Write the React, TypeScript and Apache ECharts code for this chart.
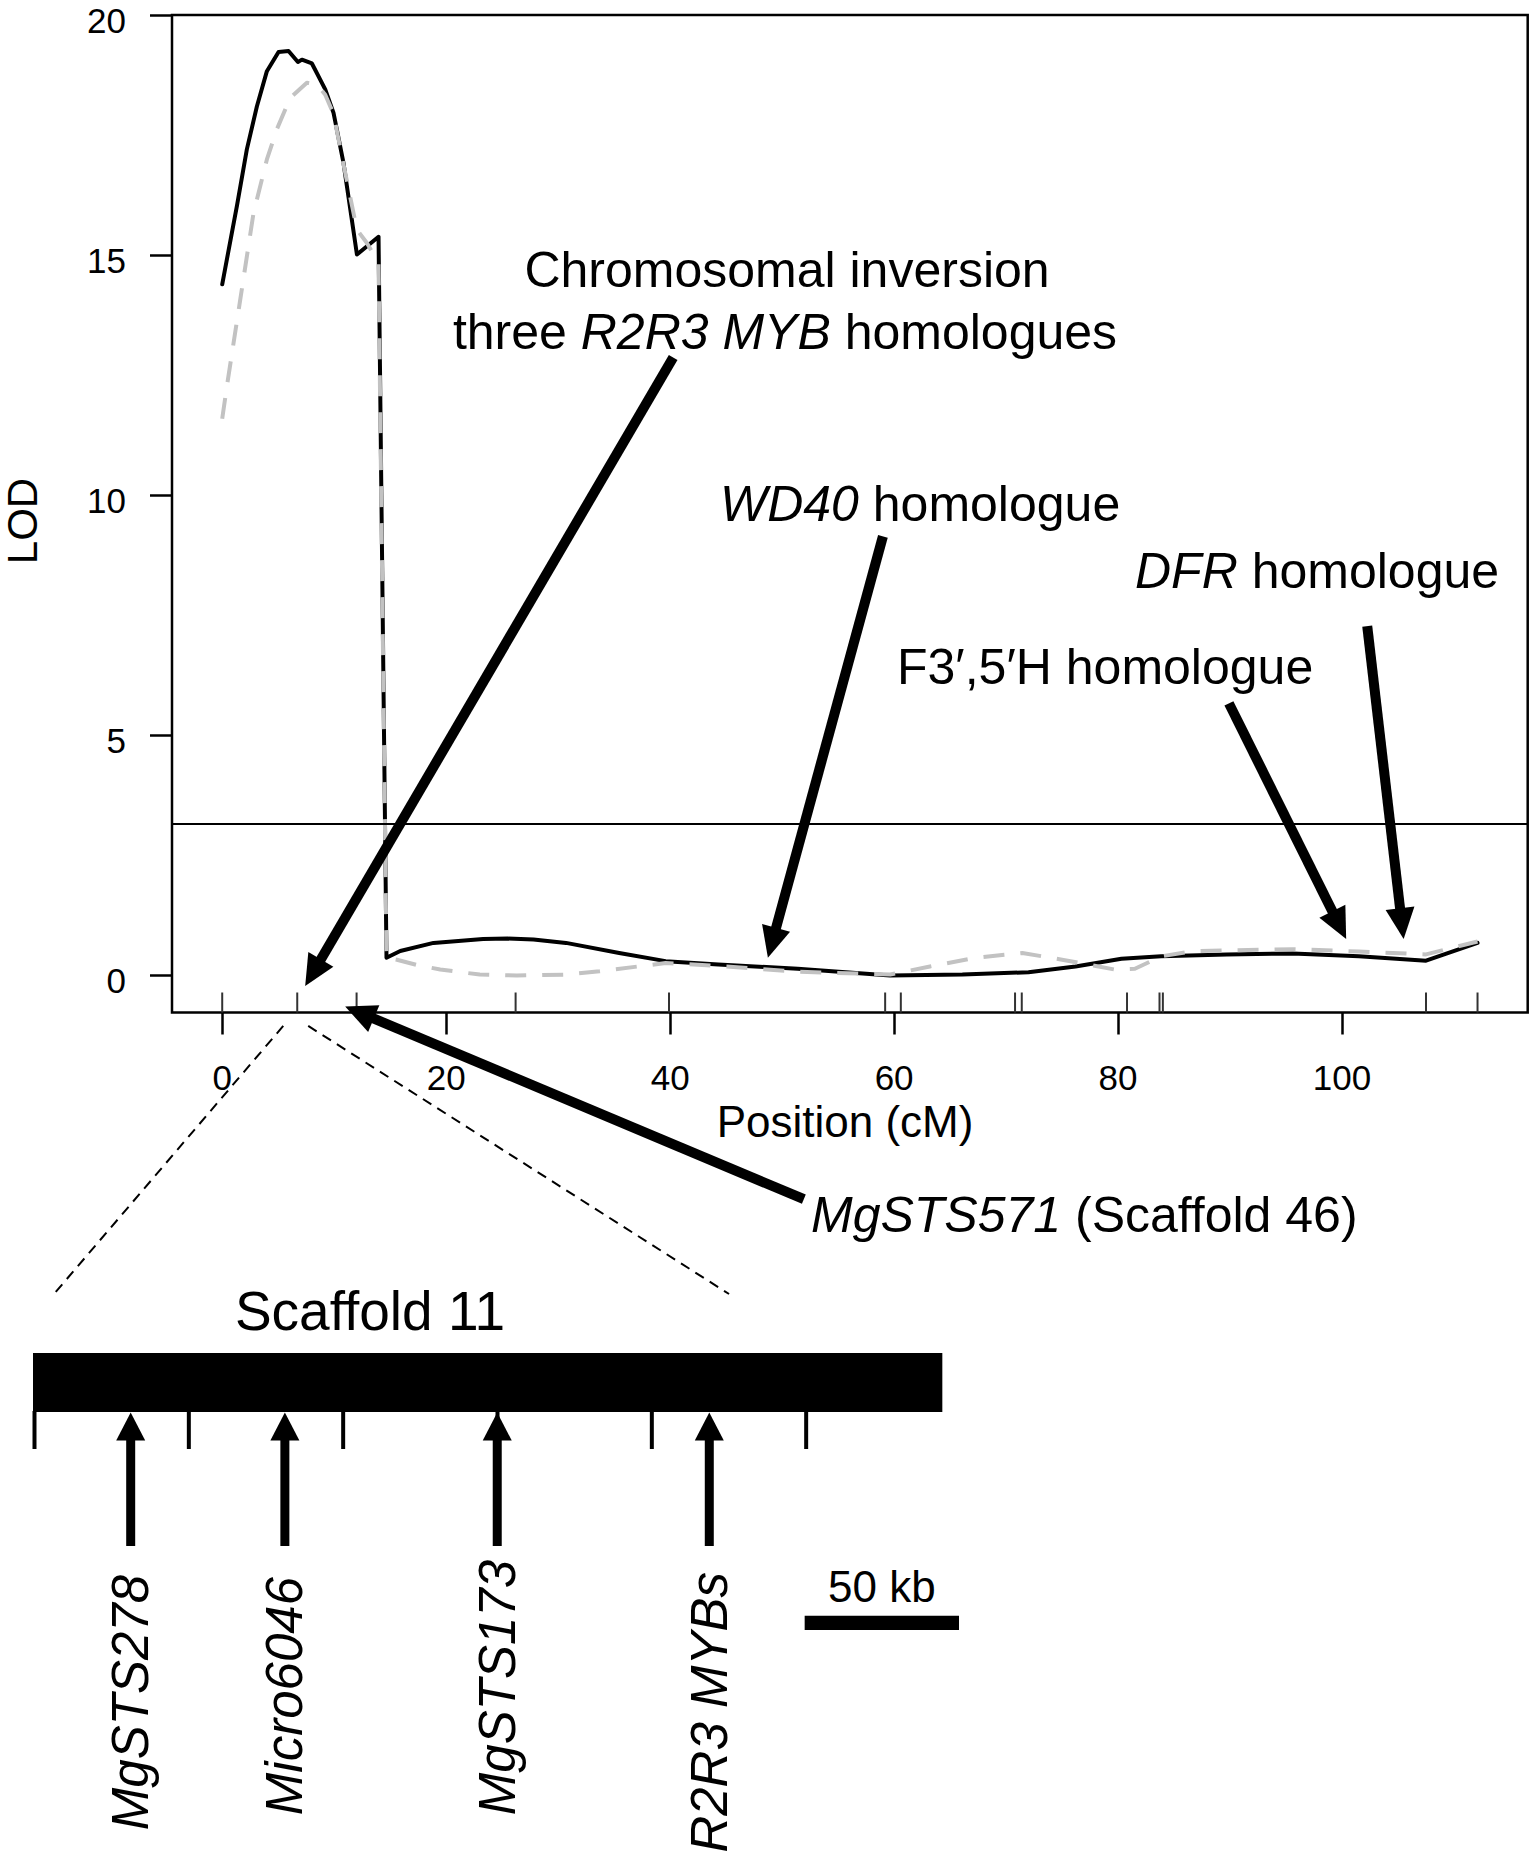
import React, { useEffect, useRef } from 'react';
import * as echarts from 'echarts';

// ---------- data ----------
const BLACK_CM = [0, 1.31, 2.2, 3.1, 3.99, 5.03, 5.92, 6.76, 7.12, 8.01, 9.2, 9.94, 10.83, 12.03, 13.96, 14.67, 15.9, 18.87, 23.3, 25.5, 27.8, 30.7, 35.45, 39.6, 44.3, 51.4, 59.65, 66.1, 72.0, 76.2, 80.3, 83.85, 89.7, 95.6, 101.5, 107.5, 112.1];
const BLACK_LOD = [14.4, 16.03, 17.21, 18.11, 18.84, 19.24, 19.26, 19.03, 19.08, 19.0, 18.46, 17.97, 16.93, 15.02, 15.39, 0.37, 0.51, 0.68, 0.76, 0.77, 0.75, 0.68, 0.47, 0.3, 0.23, 0.14, 0.0, 0.02, 0.07, 0.19, 0.35, 0.4, 0.44, 0.46, 0.4, 0.31, 0.68];
const GREY_CM = [0, 0.42, 1.61, 2.8, 3.99, 4.88, 6.07, 7.56, 8.46, 9.2, 9.94, 10.83, 12.03, 12.92, 13.96, 14.67, 15.6, 17.4, 19.47, 23.0, 26.3, 30.7, 33.7, 39.6, 44.3, 51.4, 59.65, 63.2, 67.3, 71.45, 75.0, 79.7, 81.5, 83.85, 86.8, 95.6, 101.5, 107.5, 112.1];
const GREY_LOD = [11.6, 12.28, 14.08, 15.89, 17.0, 17.63, 18.28, 18.6, 18.56, 18.35, 17.95, 16.9, 15.54, 15.26, 14.85, 0.37, 0.33, 0.22, 0.125, 0.02, 0.0, 0.02, 0.09, 0.26, 0.2, 0.08, 0.02, 0.19, 0.37, 0.47, 0.33, 0.125, 0.14, 0.4, 0.51, 0.55, 0.5, 0.44, 0.71];
const MARKER_CM = [0, 6.7, 12.0, 26.2, 39.9, 59.2, 60.6, 70.8, 71.4, 80.8, 83.7, 84.0, 107.5, 112.1];
const X_TICKS = [0, 20, 40, 60, 80, 100];
const Y_TICKS = [0, 5, 10, 15, 20];
const THRESHOLD = 3.16;
const X_RANGE = [-4.484, 116.58];
const Y_RANGE = [-0.77, 20.01];

// annotation arrows (cM, LOD)
const ARROW_TAIL = [[40.27, 12.875], [51.94, -4.66], [59.0, 9.15], [89.9, 5.67], [102.25, 7.28]];
const ARROW_TIP = [[7.41, -0.22], [10.98, -0.646], [48.73, 0.37], [100.37, 0.76], [105.5, 0.76]];

// zoom lines: from cM (on chart) to kb (on scaffold)
const ZOOM_FROM_CM = [5.45, 7.68];
const ZOOM_FROM_LOD = -1.05;
const ZOOM_TO_KB = [6.8, 225.5];

// scaffold 11 (kb)
const SCAFFOLD_KB = 294.6;
const SCAFFOLD_TICKS_KB = [0, 50, 100, 150, 200, 250];
const MARKER_NAMES = ['MgSTS278', 'Micro6046', 'MgSTS173', 'R2R3 MYBs'];
const MARKER_KB = [31.65, 81.6, 150.4, 219.1];
const SCALE_BAR_KB = [250, 300];

// ---------- layout ----------
const FONT = "'Liberation Sans', Arial, Helvetica, sans-serif";
const LABEL_TOP = [1575, 1577, 1560, 1572];
const BAR_TOP = 1353;
const BAR_BOTTOM = 1412;

function arrow(t: number[], h: number[], w: number, hl: number, hw: number) {
  const dx = h[0] - t[0];
  const dy = h[1] - t[1];
  const L = Math.hypot(dx, dy);
  const ux = dx / L;
  const uy = dy / L;
  const bx = h[0] - ux * hl;
  const by = h[1] - uy * hl;
  const nx = -uy;
  const ny = ux;
  return [
    {
      type: 'line', z: 20,
      shape: { x1: t[0], y1: t[1], x2: bx + ux * 3, y2: by + uy * 3 },
      style: { stroke: '#000', lineWidth: w, lineCap: 'butt' },
    },
    {
      type: 'polygon', z: 20,
      shape: { points: [[h[0], h[1]], [bx + nx * hw, by + ny * hw], [bx - nx * hw, by - ny * hw]] },
      style: { fill: '#000' },
    },
  ];
}

function text(x: number, y: number, t: string, size: number, opts: any = {}) {
  return {
    type: 'text', z: 30, x, y,
    rotation: opts.rotation || 0,
    style: {
      text: t,
      fill: '#000',
      fontFamily: FONT,
      fontSize: size,
      lineHeight: opts.lineHeight,
      fontStyle: opts.italic ? 'italic' : 'normal',
      align: opts.align || 'center',
      textAlign: opts.align || 'center',
      verticalAlign: 'middle',
      textVerticalAlign: 'middle',
      rich: opts.rich,
    },
  };
}

function richStyles(size: number) {
  return {
    n: { fontFamily: FONT, fontSize: size, fill: '#000', color: '#000' },
    i: { fontFamily: FONT, fontSize: size, fontStyle: 'italic', fill: '#000', color: '#000' },
  };
}

export default function App() {
  const ref = useRef<HTMLDivElement>(null);
  useEffect(() => {
    const chart = echarts.init(ref.current!, null, { renderer: 'svg' });
    const option: any = {
      animation: false,
      backgroundColor: '#fff',
      textStyle: { fontFamily: FONT },
      grid: [
        { left: 172, top: 15, width: 1355.7, height: 997.5, show: true, borderColor: '#000', borderWidth: 2.5, backgroundColor: 'transparent' },
        { left: 33, top: BAR_TOP, width: 926, height: BAR_BOTTOM - BAR_TOP, show: false },
      ],
      xAxis: [
        {
          gridIndex: 0, type: 'value', min: X_RANGE[0], max: X_RANGE[1], position: 'bottom',
          axisLine: { show: false, onZero: false },
          axisTick: { show: true, inside: false, customValues: X_TICKS, length: 22, lineStyle: { color: '#000', width: 2.5 } },
          axisLabel: { show: true, customValues: X_TICKS, fontSize: 35, lineHeight: 28, color: '#000', fontFamily: FONT, margin: 51 },
          splitLine: { show: false },
        },
        { gridIndex: 1, type: 'value', min: 0, max: 300, show: false },
      ],
      yAxis: [
        {
          gridIndex: 0, type: 'value', min: Y_RANGE[0], max: Y_RANGE[1], position: 'left',
          axisLine: { show: false, onZero: false },
          axisTick: { show: true, inside: false, customValues: Y_TICKS, length: 22, lineStyle: { color: '#000', width: 2.5 } },
          axisLabel: { show: false },
          splitLine: { show: false },
        },
        { gridIndex: 1, type: 'value', min: 0, max: 1, show: false },
      ],
      series: [
        {
          type: 'line', xAxisIndex: 0, yAxisIndex: 0, z: 3,
          data: BLACK_CM.map((c, i) => [c, BLACK_LOD[i]]),
          showSymbol: false, symbol: 'none',
          lineStyle: { color: '#000', width: 4, cap: 'round', join: 'round' },
          markLine: {
            silent: true, symbol: ['none', 'none'],
            label: { show: false },
            lineStyle: { color: '#000', width: 2, type: 'solid' },
            data: [{ yAxis: THRESHOLD }],
          },
        },
        {
          type: 'line', xAxisIndex: 0, yAxisIndex: 0, z: 4,
          data: GREY_CM.map((c, i) => [c, GREY_LOD[i]]),
          showSymbol: false, symbol: 'none',
          lineStyle: { color: '#c2c2c2', width: 4, type: [21, 16], cap: 'butt', join: 'round' },
        },
      ],
    };
    chart.setOption(option);

    const P = (x: number, y: number) => chart.convertToPixel({ gridIndex: 0 } as any, [x, y]) as number[];
    const KX = (kb: number) => (chart.convertToPixel({ gridIndex: 1 } as any, [kb, 0]) as number[])[0];

    const els: any[] = [];
    // y tick labels
    Y_TICKS.forEach((v) => {
      const [x0, y] = P(X_RANGE[0], v);
      els.push(text(x0 - 46, y + 5, String(v), 35, { align: 'right', lineHeight: 26 }));
    });
    // rug markers
    MARKER_CM.forEach((c) => {
      const [x, y] = P(c, Y_RANGE[0]);
      els.push({ type: 'line', z: 5, shape: { x1: x, y1: y, x2: x, y2: y - 20 }, style: { stroke: '#333', lineWidth: 2 } });
    });
    // annotation arrows
    ARROW_TAIL.forEach((t, i) => {
      els.push(...arrow(P(t[0], t[1]), P(ARROW_TIP[i][0], ARROW_TIP[i][1]), 10, 31, 14.5));
    });
    // zoom lines
    ZOOM_FROM_CM.forEach((c, i) => {
      const a = P(c, ZOOM_FROM_LOD);
      els.push({
        type: 'line', z: 5,
        shape: { x1: a[0], y1: a[1], x2: KX(ZOOM_TO_KB[i]), y2: 1294 },
        style: { stroke: '#000', lineWidth: 2, lineDash: [10, 7] },
      });
    });
    // scaffold bar
    els.push({ type: 'rect', z: 10, shape: { x: KX(0), y: BAR_TOP, width: KX(SCAFFOLD_KB) - KX(0), height: BAR_BOTTOM - BAR_TOP }, style: { fill: '#000' } });
    SCAFFOLD_TICKS_KB.forEach((kb) => {
      const x = KX(kb) + 1.5;
      els.push({ type: 'line', z: 10, shape: { x1: x, y1: BAR_BOTTOM - 1, x2: x, y2: 1449 }, style: { stroke: '#000', lineWidth: 4 } });
    });
    MARKER_KB.forEach((kb, i) => {
      const x = KX(kb);
      els.push(...arrow([x, 1546], [x, BAR_BOTTOM + 0.5], 9, 28, 14.5));
      els.push(text(x, LABEL_TOP[i], MARKER_NAMES[i], 51, { rotation: Math.PI / 2, align: 'right', italic: true, lineHeight: 46 }));
    });
    // scale bar
    els.push({ type: 'rect', z: 10, shape: { x: KX(SCALE_BAR_KB[0]), y: 1615.7, width: KX(SCALE_BAR_KB[1]) - KX(SCALE_BAR_KB[0]), height: 14.3 }, style: { fill: '#000' } });
    els.push(text((KX(SCALE_BAR_KB[0]) + KX(SCALE_BAR_KB[1])) / 2, 1586, '50 kb', 44));

    // texts
    els.push(text(787, 270, 'Chromosomal inversion', 50));
    els.push(text(785, 332, '{n|three }{i|R2R3 MYB}{n| homologues}', 50, { rich: richStyles(50) }));
    els.push(text(720, 504, '{i|WD40}{n| homologue}', 50, { align: 'left', rich: richStyles(50) }));
    els.push(text(1135, 571, '{i|DFR}{n| homologue}', 50, { align: 'left', rich: richStyles(50) }));
    els.push(text(897, 667, 'F3\u2032,5\u2032H homologue', 50, { align: 'left' }));
    els.push(text(811, 1215, '{i|MgSTS571}{n| (Scaffold 46)}', 50, { align: 'left', rich: richStyles(50) }));
    els.push(text(370, 1311, 'Scaffold 11', 55));
    els.push(text(845, 1121, 'Position (cM)', 44, { lineHeight: 34 }));
    els.push(text(22, 521, 'LOD', 42, { rotation: Math.PI / 2 }));

    chart.setOption({ graphic: { elements: els } });
    return () => chart.dispose();
  }, []);
  return <div ref={ref} style={{ position: 'absolute', left: 0, top: 0, width: 1533, height: 1856, background: '#fff' }} />;
}
